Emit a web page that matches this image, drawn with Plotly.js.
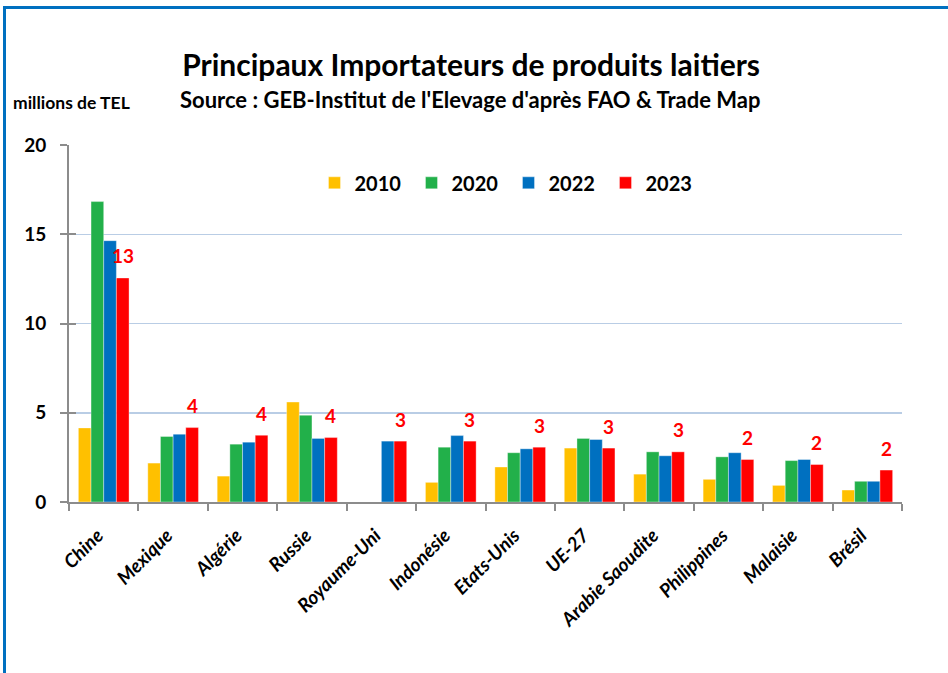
<!DOCTYPE html>
<html><head><meta charset="utf-8">
<script src="https://cdn.plot.ly/plotly-3.0.1.min.js"></script>
<style>
body{margin:0;background:#fff}
#chart{width:948px;height:673px}
#frame{position:absolute;left:3px;top:6px;width:945px;height:667px;border-left:3px solid #0070C0;border-top:3px solid #0070C0;pointer-events:none;box-sizing:border-box}
</style>
</head><body><div id="chart"></div><div id="frame"></div>
<script>
const categories = ['Chine','Mexique','Algérie','Russie','Royaume-Uni','Indonésie','Etats-Unis','UE-27','Arabie Saoudite','Philippines','Malaisie','Brésil'];
const years = ['2010','2020','2022','2023'];
const v2010 = [4.15,2.18,1.45,5.6,null,1.1,1.96,3.02,1.56,1.27,0.93,0.67];
const v2020 = [16.83,3.67,3.24,4.86,null,3.07,2.76,3.56,2.81,2.53,2.32,1.16];
const v2022 = [14.64,3.8,3.35,3.56,3.41,3.72,2.98,3.5,2.59,2.76,2.38,1.16];
const v2023 = [12.55,4.17,3.74,3.61,3.41,3.41,3.07,3.02,2.81,2.38,2.1,1.79];
const labels2023 = [13,4,4,4,3,3,3,3,3,2,2,2];
const colors = ['#FFC000','#22B04A','#0070C0','#FF0000'];
const series = [v2010,v2020,v2022,v2023];

const FONT = 'Lato, "Open Sans", sans-serif';
const bargap = 0.27;

const traces = series.map((vals,k)=>({
  type:'bar', name:years[k], x:categories, y:vals,
  marker:{color:colors[k], line:{color:'rgba(255,255,255,0.6)', width:0.6}},
  hoverinfo:'skip'
}));
// invisible trace that activates the overlay axis used for crossing y ticks
traces.push({type:'scatter', x:[categories[0]], y:[0], yaxis:'y2', mode:'markers', marker:{opacity:0}, showlegend:false, hoverinfo:'skip'});

const offset = (1-bargap)*3/8;
const annotations = labels2023.map((t,i)=>({
  xref:'x', yref:'y', x:i+offset, y:v2023[i], yshift:22, text:String(t),
  showarrow:false, xanchor:'center', yanchor:'middle',
  font:{family:FONT, size:19, color:'#FF0000', weight:'bold'}
}));
annotations.push({xref:'paper', yref:'paper', x:0.482, y:1.1285, text:"Source : GEB-Institut de l'Elevage d'après FAO & Trade Map",
  showarrow:false, xanchor:'center', yanchor:'middle', font:{family:FONT, size:22, color:'#000', weight:'bold'}});
annotations.push({xref:'paper', yref:'paper', x:0.0036, y:1.12, text:'millions de TEL',
  showarrow:false, xanchor:'center', yanchor:'middle', font:{family:FONT, size:17.5, color:'#000', weight:'bold'}});

const layout = {
  width:948, height:673,
  margin:{l:69, r:46, t:145, b:171},
  paper_bgcolor:'#fff', plot_bgcolor:'#fff',
  barmode:'group', bargap:bargap, bargroupgap:0,
  title:{text:'Principaux Importateurs de produits laitiers', x:0.497, xanchor:'center', y:1-65/673, yanchor:'middle',
    font:{family:FONT, size:30, color:'#000', weight:'bold'}},
  showlegend:true,
  legend:{orientation:'h', x:0.5276, xanchor:'center', y:0.894, yanchor:'middle', entrywidth:52, entrywidthmode:'pixels',
    font:{family:FONT, size:20, color:'#000', weight:'bold'}, bgcolor:'rgba(0,0,0,0)', traceorder:'normal'},
  xaxis:{type:'category', range:[-0.5,11.5], showline:true, linecolor:'#8C8C8C', linewidth:2, ticks:'outside', tickson:'boundaries',
    ticklen:7, tickwidth:2, tickcolor:'#8C8C8C', tickangle:-45, ticklabelshift:-6, ticklabelstandoff:13,
    tickfont:{family:FONT, size:19, color:'#000', weight:'bold', style:'italic'}, showgrid:false, fixedrange:true},
  yaxis:{range:[0,20], dtick:5, showline:true, linecolor:'#8C8C8C', linewidth:2, ticks:'outside', ticklen:7, tickwidth:2,
    tickcolor:'#8C8C8C', ticklabelstandoff:10, showgrid:true, gridcolor:'#B9CDE5', gridwidth:1.5, zeroline:false,
    tickfont:{family:FONT, size:19, color:'#000', weight:'bold'}, fixedrange:true},
  yaxis2:{overlaying:'y', side:'left', range:[0,20], dtick:5, ticks:'inside', ticklen:7, tickwidth:2, tickcolor:'#8C8C8C',
    showticklabels:false, showgrid:false, zeroline:false, showline:false, fixedrange:true},
  annotations:annotations
};
Plotly.newPlot('chart', traces, layout, {displayModeBar:false, staticPlot:true});
</script>
</body></html>
